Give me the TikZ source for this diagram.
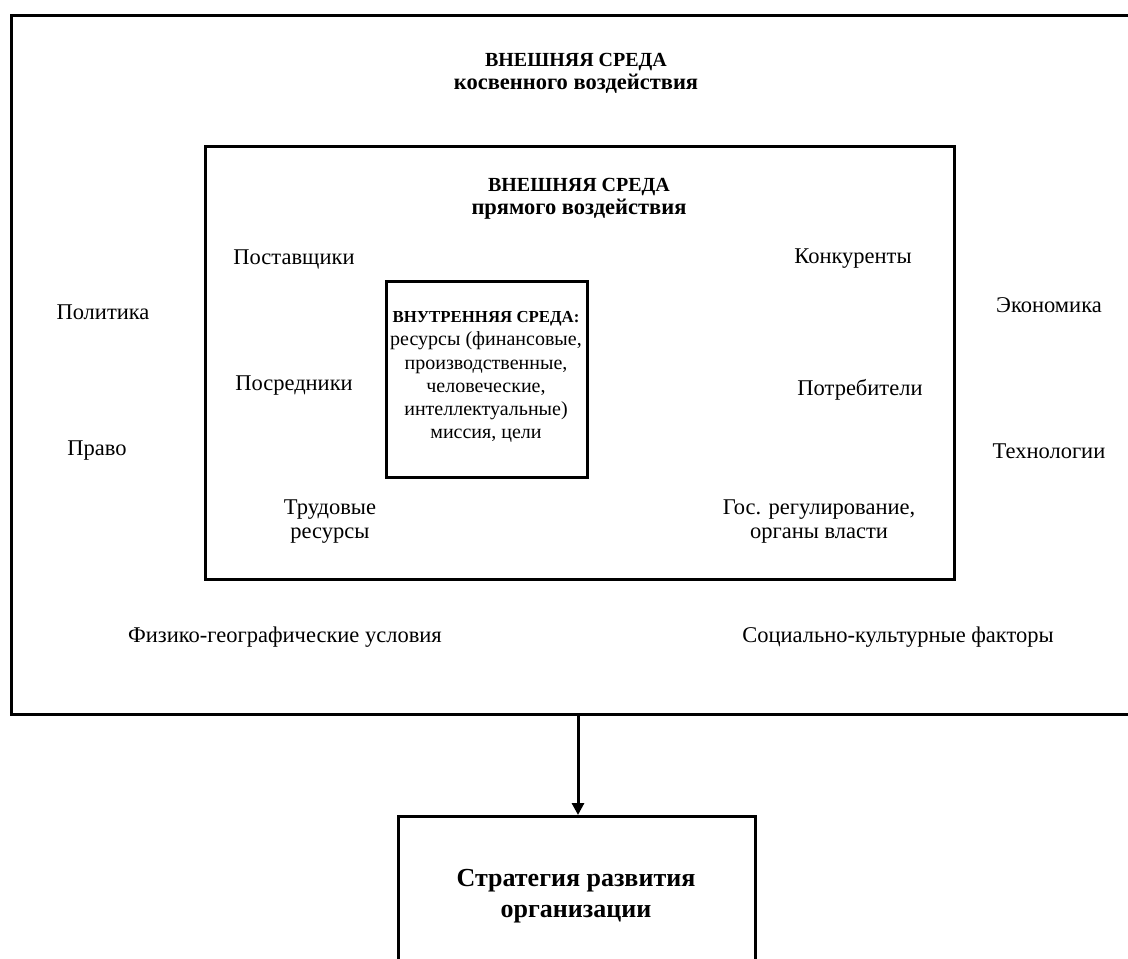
\documentclass[tikz,border=0pt]{standalone}
\usepackage{fontspec}
\setmainfont{Liberation Serif}
\usetikzlibrary{arrows.meta}
\newcommand{\capsz}{\fontsize{20}{24}\selectfont}
\newcommand{\lowsz}{\fontsize{22.5}{24}\selectfont}
\begin{document}
\begin{tikzpicture}[x=1pt,y=-1pt,
  frame/.style={draw=black,line width=3pt},
  lbl/.style={inner sep=0pt,align=center,font=\fontsize{22.5}{24}\selectfont},
  ttl/.style={inner sep=0pt,align=center,font=\bfseries},
  conn/.style={draw=black,line width=3pt,-{Triangle[length=12pt,width=12pt]}}]
\useasboundingbox (0,0) rectangle (1128,959);
\clip (0,0) rectangle (1128,959);
% outer box (right edge runs off the picture)
\node[frame,minimum width=1140pt,minimum height=699pt,anchor=north west] (outer) at (10,14) {};
% middle box
\node[frame,minimum width=749pt,minimum height=433pt,anchor=north west] (mid) at (204,145) {};
% inner box
\node[frame,minimum width=201pt,minimum height=196pt,anchor=north west] (inner) at (385,280) {};
% strategy box (bottom edge runs off the picture)
\node[frame,minimum width=357pt,minimum height=170pt,anchor=north west] (strat) at (397,815) {};

\node[ttl] (t1) at (576,73) {{\capsz ВНЕШНЯЯ СРЕДА}\\[2pt]{\lowsz косвенного воздействия}};
\node[ttl] (t2) at (579,199) {{\capsz ВНЕШНЯЯ СРЕДА}\\[2pt]{\lowsz прямого воздействия}};

\node[lbl] (post) at (294,259) {Поставщики};
\node[lbl] (konk) at (853,259) {Конкуренты};
\node[lbl] (pol) at (103,312) {Политика};
\node[lbl] (ekon) at (1049,305) {Экономика};
\node[lbl] (posr) at (294,386) {Посредники};
\node[lbl] (potr) at (860,390) {Потребители};
\node[lbl] (pravo) at (97,451) {Право};
\node[lbl] (tech) at (1049,451) {Технологии};
\node[lbl] (trud) at (330,522) {Трудовые\\ресурсы};
\node[lbl] (gos) at (819,522) {Гос. регулирование,\\органы власти};
\node[lbl] (fiz) at (285,637) {Физико-географические условия};
\node[lbl] (soc) at (898,637) {Социально-культурные факторы};

\node[inner sep=0pt,align=center,font=\fontsize{20}{23.2}\selectfont] (intxt) at (486,377)
  {{\fontsize{16.8}{23}\selectfont\bfseries ВНУТРЕННЯЯ СРЕДА:}\\ресурсы (финансовые,\\производственные,\\человеческие,\\интеллектуальные)\\миссия, цели};

\node[ttl,font=\fontsize{26}{31}\selectfont\bfseries] (stxt) at (576,896) {Стратегия развития\\организации};

\coordinate (aS) at (578,713);
\draw[conn] (aS) -- (aS |- strat.north);
\end{tikzpicture}
\end{document}
